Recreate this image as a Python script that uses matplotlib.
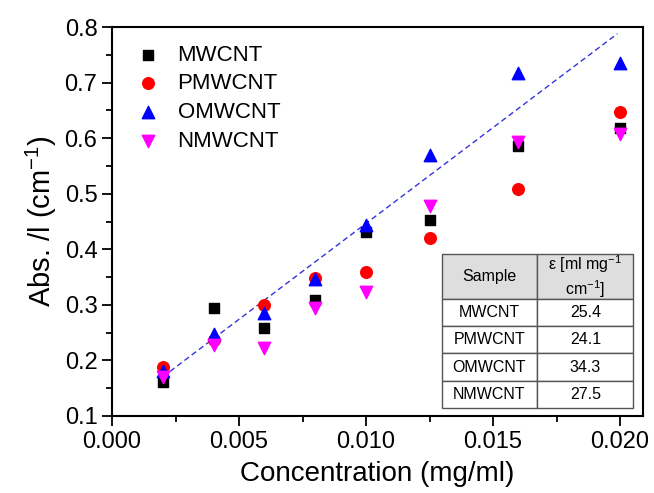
import matplotlib
matplotlib.use("Agg")
import matplotlib.pyplot as plt
from matplotlib.ticker import MultipleLocator
import numpy as np

plt.rcParams['font.family'] = ['Liberation Sans', 'DejaVu Sans']
plt.rcParams['mathtext.fontset'] = 'custom'
plt.rcParams['mathtext.rm'] = 'Liberation Sans'

conc = [0.002, 0.004, 0.006, 0.008, 0.010, 0.0125, 0.016, 0.020]
mwcnt = [0.162, 0.295, 0.259, 0.308, 0.432, 0.453, 0.585, 0.618]
pmwcnt = [0.189, 0.236, 0.299, 0.349, 0.359, 0.420, 0.509, 0.647]
omwcnt = [0.181, 0.247, 0.286, 0.346, 0.443, 0.570, 0.717, 0.736]
nmwcnt = [0.170, 0.228, 0.222, 0.295, 0.324, 0.478, 0.593, 0.608]

fit_slope = 34.5
fit_intercept = 0.1015
fit_range = [0.002, 0.0199]

samples = ["MWCNT", "PMWCNT", "OMWCNT", "NMWCNT"]
epsilon = ["25.4", "24.1", "34.3", "27.5"]

fig = plt.figure(figsize=(6.54, 4.93), dpi=100)
ax = fig.add_axes([0.1713, 0.1562, 0.8117, 0.789])

xf = np.array(fit_range)
ax.plot(xf, fit_intercept + fit_slope * xf, ls=(0, (4, 2.5)), color="#3333dd", lw=1.0, zorder=1)

ax.scatter(conc, mwcnt, marker="s", s=55, color="black", label="MWCNT", zorder=3)
ax.scatter(conc, pmwcnt, marker="o", s=70, color="red", label="PMWCNT", zorder=2)
ax.scatter(conc, omwcnt, marker="^", s=80, color="blue", label="OMWCNT", zorder=4)
ax.scatter(conc, nmwcnt, marker="v", s=80, color="magenta", label="NMWCNT", zorder=5)

ax.set_xlim(0, 0.0209)
ax.set_ylim(0.1, 0.8)
ax.xaxis.set_major_locator(MultipleLocator(0.005))
ax.xaxis.set_minor_locator(MultipleLocator(0.0025))
ax.yaxis.set_major_locator(MultipleLocator(0.1))
ax.yaxis.set_minor_locator(MultipleLocator(0.05))
ax.xaxis.set_major_formatter(plt.FormatStrFormatter("%.3f"))
ax.yaxis.set_major_formatter(plt.FormatStrFormatter("%.1f"))
ax.tick_params(which="major", direction="out", length=7, width=1.3, labelsize=17)
ax.tick_params(which="minor", direction="out", length=4, width=1.3)
for sp in ax.spines.values():
    sp.set_linewidth(1.5)

ax.set_xlabel("Concentration (mg/ml)", fontsize=20, labelpad=6)
ax.set_ylabel("Abs. /l (cm$^{\\mathregular{-1}}$)", fontsize=21, labelpad=4)

ax.legend(loc="upper left", bbox_to_anchor=(0.0, 0.995), frameon=False, fontsize=16,
          handletextpad=0.45, labelspacing=0.35, borderaxespad=0.3, handlelength=1.8)

cell_text = [[s, e] for s, e in zip(samples, epsilon)]
tbl = ax.table(cellText=cell_text, colLabels=["Sample", "ε [ml mg$^{-1}$\ncm$^{-1}$]"],
               cellLoc="center", bbox=[0.621, 0.0213, 0.361, 0.3952], zorder=6)
tbl.auto_set_font_size(False)
tbl.set_fontsize(11.5)
for (r, c), cell in tbl.get_celld().items():
    cell.set_edgecolor("#555555")
    cell.set_linewidth(1.0)
    cell.set_height(45 if r == 0 else 27)
    cell.set_width(95.6 if c == 0 else 96)
    if r == 0:
        cell.set_facecolor("#dedede")

fig.savefig("out.png", dpi=100)
